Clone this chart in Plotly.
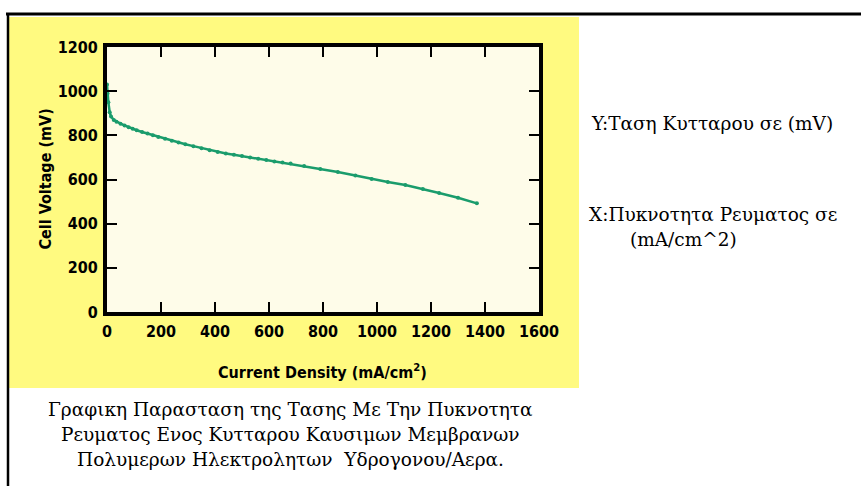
import plotly.graph_objects as go

# Data
current_density = [0, 2, 5, 10, 15, 25, 35, 50, 65, 80, 95, 110, 130, 150, 170, 190,
                   215, 240, 265, 290, 320, 350, 380, 410, 440, 470, 500, 530, 560,
                   590, 620, 650, 680, 730, 790, 855, 920, 980, 1040, 1105, 1170,
                   1230, 1300, 1370]
cell_voltage = [1030, 990, 950, 905, 885, 870, 862, 853, 845, 837, 830, 823, 815, 808,
                800, 793, 784, 776, 768, 760, 751, 742, 733, 725, 718, 712, 706, 700,
                694, 688, 682, 677, 672, 661, 648, 634, 618, 602, 589, 575, 557, 539,
                517, 492]

x_ticks = [0, 200, 400, 600, 800, 1000, 1200, 1400, 1600]
y_ticks = [0, 200, 400, 600, 800, 1000, 1200]

y_title = "Cell Voltage (mV)"
x_title = "Current Density (mA/cm<sup>2</sup>)"
side_notes = ["Y:Ταση Κυτταρου σε (mV)", "X:Πυκνοτητα Ρευματος σε", "(mA/cm^2)"]
caption = ["Γραφικη Παρασταση της Τασης Με Την Πυκνοτητα",
           "Ρευματος Ενος Κυτταρου Καυσιμων Μεμβρανων",
           "Πολυμερων Ηλεκτρολητων  Υδρογονου/Αερα."]

W, H = 861, 486
L, R, T, B = 107, 539, 47, 312  # plot area in pixels


def px(xp):
    return (xp - L) / (R - L)


def py(yp):
    return (B - yp) / (B - T)


axis_font = dict(family="DejaVu Sans Condensed, Liberation Sans Narrow, Liberation Sans, Arial",
                 size=16, color="black", weight="bold")
greek_font = dict(family="DejaVu Serif, Liberation Serif, serif", size=18.5, color="black")

fig = go.Figure()
fig.add_trace(go.Scatter(
    x=current_density, y=cell_voltage, mode="lines+markers",
    line=dict(color="#1a9c6c", width=2.5),
    marker=dict(color="#1a9c6c", size=4, symbol="circle"),
    showlegend=False, hoverinfo="x+y",
))

shapes = [
    # yellow panel
    dict(type="rect", xref="paper", yref="paper", x0=px(9), x1=px(579), y0=py(388), y1=py(17),
         fillcolor="#FFFA80", line=dict(width=0), layer="below"),
    # cream plotting area
    dict(type="rect", xref="paper", yref="paper", x0=0, x1=1, y0=0, y1=1,
         fillcolor="#FEFCE9", line=dict(width=0), layer="below"),
    # top border line
    dict(type="line", xref="paper", yref="paper", x0=px(6), x1=px(861), y0=py(14), y1=py(14),
         line=dict(color="black", width=3)),
    # left border line
    dict(type="line", xref="paper", yref="paper", x0=px(8), x1=px(8), y0=py(14), y1=py(490),
         line=dict(color="black", width=2.5)),
]

annotations = [
    dict(text=y_title, xref="paper", yref="paper", x=px(45), y=0.5, textangle=-90,
         showarrow=False, font=axis_font, xanchor="center", yanchor="middle"),
    dict(text=x_title, xref="paper", yref="paper", x=px(322), y=py(371),
         showarrow=False, font=axis_font, xanchor="center", yanchor="middle"),
    dict(text=side_notes[0], xref="paper", yref="paper", x=px(589), y=py(123),
         showarrow=False, font=greek_font, xanchor="left", yanchor="middle"),
    dict(text=side_notes[1], xref="paper", yref="paper", x=px(587), y=py(214),
         showarrow=False, font=greek_font, xanchor="left", yanchor="middle"),
    dict(text=side_notes[2], xref="paper", yref="paper", x=px(628), y=py(239),
         showarrow=False, font=greek_font, xanchor="left", yanchor="middle"),
]
for line, yp in zip(caption, [409, 434, 459]):
    annotations.append(dict(text=line, xref="paper", yref="paper", x=px(290), y=py(yp),
                            showarrow=False, font=greek_font, xanchor="center", yanchor="middle"))

fig.update_layout(
    width=W, height=H, autosize=False,
    margin=dict(l=L, r=W - R, t=T, b=H - B, pad=0),
    paper_bgcolor="white", plot_bgcolor="#FEFCE9",
    shapes=shapes, annotations=annotations,
    xaxis=dict(range=[0, 1600], tickvals=x_ticks, ticktext=[str(v) for v in x_ticks],
               showgrid=False, zeroline=False, showline=True, linecolor="black", linewidth=4,
               mirror="ticks", ticks="inside", ticklen=10, tickwidth=2, tickcolor="black",
               tickfont=axis_font, ticklabelstandoff=2, fixedrange=True),
    yaxis=dict(range=[0, 1200], tickvals=y_ticks, ticktext=[str(v) for v in y_ticks],
               showgrid=False, zeroline=False, showline=True, linecolor="black", linewidth=4,
               mirror="ticks", ticks="inside", ticklen=10, tickwidth=2, tickcolor="black",
               tickfont=axis_font, ticklabelstandoff=2, fixedrange=True),
)

fig.write_html("out.html", config={"displayModeBar": False},
               post_script="document.body.style.margin='0';")
